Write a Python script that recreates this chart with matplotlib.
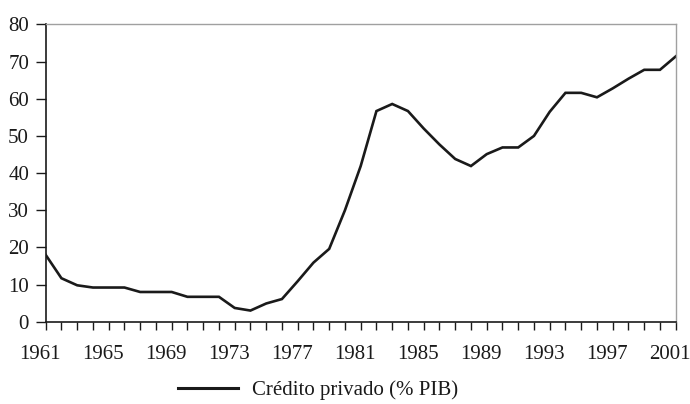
import matplotlib
matplotlib.use("Agg")
import matplotlib.pyplot as plt
import matplotlib.transforms as mtransforms
from matplotlib.lines import Line2D

years = list(range(1961, 2002))
credito = [18.0, 11.7, 9.8, 9.2, 9.2, 9.2, 8.0, 8.0, 8.0, 6.7,
           6.7, 6.7, 3.7, 3.0, 4.9, 6.1, 10.9, 15.9, 19.6, 30.0,
           41.9, 56.7, 58.6, 56.7, 52.0, 47.7, 43.8, 41.9, 45.1, 46.9,
           46.9, 50.0, 56.5, 61.6, 61.6, 60.4, 62.8, 65.4, 67.8, 67.8,
           71.4]
xtick_labels = list(range(1961, 2002, 4))
yticks = list(range(0, 81, 10))
series_label = "Crédito privado (% PIB)"

plt.rcParams['font.family'] = ['Liberation Serif', 'DejaVu Serif']

fig = plt.figure(figsize=(6.9, 4.04), dpi=100)
ax = fig.add_axes([0.0662, 0.2037, 0.9131, 0.7357])

ax.plot(years, credito, color='#1a1a1a', lw=1.9, solid_joinstyle='miter')
ax.set_xlim(1961, 2001)
ax.set_ylim(0, 80)

ax.set_xticks(years, minor=False)
ax.set_xticklabels([str(y) if y in xtick_labels else '' for y in years])
ax.set_yticks(yticks)
ax.tick_params(axis='x', direction='out', length=6, width=1, pad=11,
               labelsize=15, colors='#1a1a1a')
ax.tick_params(axis='y', direction='out', length=7, width=1, pad=5,
               labelsize=15, colors='#1a1a1a')

offset = mtransforms.ScaledTranslation(-6/100, 0, fig.dpi_scale_trans)
for lbl in ax.get_xticklabels():
    lbl.set_transform(lbl.get_transform() + offset)

for s in ['left', 'bottom']:
    ax.spines[s].set_color('#1a1a1a')
    ax.spines[s].set_linewidth(1.2)
for s in ['top', 'right']:
    ax.spines[s].set_color('#a0a0a0')
    ax.spines[s].set_linewidth(1.0)

handle = Line2D([0], [0], color='#1a1a1a', lw=2.2)
leg = fig.legend([handle], [series_label], loc='center',
                 bbox_to_anchor=(318/690, 1 - 390/404), frameon=False,
                 fontsize=15, handlelength=2.9, handletextpad=0.67)
for t in leg.get_texts():
    t.set_color('#1a1a1a')

fig.savefig('out.png', dpi=100)
